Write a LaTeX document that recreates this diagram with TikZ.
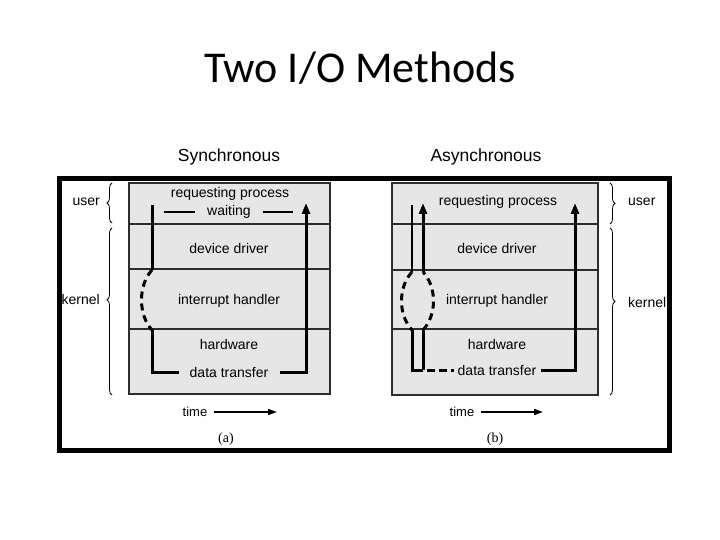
\documentclass[tikz,border=0pt]{standalone}
\usepackage{fontspec}
\setmainfont{Liberation Sans}
\newfontfamily\titlefont{Carlito}
\newfontfamily\serifx{Liberation Serif}
\usetikzlibrary{arrows.meta,decorations.pathreplacing}
\definecolor{boxgray}{RGB}{230,230,230}
\definecolor{edgegray}{RGB}{45,45,45}
\begin{document}
\begin{tikzpicture}[x=1pt,y=-1pt,
  lbl/.style={font=\fontsize{14}{16}\selectfont, inner sep=1pt},
  tlbl/.style={font=\fontsize{13}{15}\selectfont, inner sep=1pt},
  sublbl/.style={font=\serifx\fontsize{14}{16}\selectfont, inner sep=1pt},
  panel/.style={fill=boxgray, draw=edgegray, line width=1.3pt},
  divider/.style={draw=edgegray, line width=1.1pt},
  flow/.style={line width=3pt, line join=miter},
  thinflow/.style={line width=2pt},
  dashflow/.style={line width=3pt, dash pattern=on 7pt off 5pt},
  tip/.style={-{Triangle[length=11pt,width=8pt]}},
  waitline/.style={line width=1.6pt},
  timearrow/.style={line width=1.6pt, -{Triangle[length=9pt,width=6pt]}},
  brc/.style={decorate, decoration={brace, amplitude=5pt, aspect=#1}, line width=0.8pt},
  brc/.default=0.5
]
\useasboundingbox (0,0) rectangle (720,540);

% title and headings
\node[font=\titlefont\fontsize{44}{50}\selectfont] (title) at (360,68) {Two I/O Methods};
\node[font=\fontsize{17.5}{20}\selectfont] (sync) at (229,157) {Synchronous};
\node[font=\fontsize{17.5}{20}\selectfont] (async) at (486,157) {Asynchronous};

% ---------- panel (a) ----------
\draw[panel] (129,183) rectangle (330,394);
\draw[divider] (129,224) -- (330,224);
\draw[divider] (129,269) -- (330,269);
\draw[divider] (129,329) -- (330,329);

\node[lbl] (aReq) at (230,194) {requesting process};
\node[lbl, inner xsep=12pt] (aWait) at (229,212) {waiting};
\node[lbl] (aDev) at (229,248) {device driver};
\node[lbl] (aInt) at (229,301) {interrupt handler};
\node[lbl] (aHw) at (229,344) {hardware};
\node[lbl, inner xsep=11pt] (aDt) at (229,372) {data transfer};

\coordinate (aWl) at (164,212);
\coordinate (aWr) at (293,212);
\draw[waitline] (aWl) -- (aWait.west);
\draw[waitline] (aWait.east) -- (aWr);

\coordinate (aS) at (152,205);
\coordinate (aD1) at (152,270);
\coordinate (aD2) at (152,330);
\coordinate (aC) at (152,372);
\coordinate (aR) at (306,372);
\coordinate (aT) at (306,203);
\draw[flow] (aS) -- (aD1);
\draw[dashflow] (aD1) .. controls (138,285) and (138,315) .. (aD2);
\draw[flow] (aD2) -- (aC) -- (aDt.west);
\draw[flow, tip] (aDt.east) -- (aR) -- (aT);

\node[tlbl] (aTime) at (195,412) {time};
\coordinate (aTe) at (277,412);
\draw[timearrow] (aTime.east) ++(6,0) -- (aTe);
\node[sublbl] (aLab) at (226,439) {(a)};

% braces (a)
\coordinate (aB1) at (112,223);
\coordinate (aB2) at (112,183);
\coordinate (aB3) at (112,395);
\coordinate (aB4) at (112,228);
\draw[brc] (aB1) -- (aB2);
\draw[brc=0.57] (aB3) -- (aB4);
\node[lbl, anchor=east] (aUser) at (101,202) {user};
\node[lbl, anchor=east] (aKern) at (101,299) {kernel};

% ---------- panel (b) ----------
\draw[panel] (392,183) rectangle (598,395);
\draw[divider] (392,224) -- (598,224);
\draw[divider] (392,270) -- (598,270);
\draw[divider] (392,329) -- (598,329);

\node[lbl] (bReq) at (498,202) {requesting process};
\node[lbl] (bDev) at (497,248) {device driver};
\node[lbl] (bInt) at (497,301) {interrupt handler};
\node[lbl] (bHw) at (497,344) {hardware};
\node[lbl, inner xsep=4pt] (bDt) at (497,370) {data transfer};

\coordinate (bL0) at (412,205);
\coordinate (bL1) at (412,272);
\coordinate (bL2) at (412,330);
\coordinate (bL3) at (412,370);
\coordinate (bR3) at (423,370);
\coordinate (bR2) at (423,330);
\coordinate (bR1) at (423,272);
\coordinate (bR0) at (423,203);
\coordinate (bX) at (575,370);
\coordinate (bXT) at (575,203);
\draw[thinflow] (bL0) -- (bL1);
\draw[dashflow] (bL1) .. controls (398,287) and (398,315) .. (bL2);
\draw[flow] (bL2) -- (bL3) -- (bR3);
\draw[flow] (bR3) -- (bR2);
\draw[dashflow] (bR2) .. controls (437,315) and (437,287) .. (bR1);
\draw[flow, tip] (bR1) -- (bR0);
\draw[line width=3pt, dash pattern=on 8pt off 4pt, dash phase=8pt] (bR3) -- (bDt.west);
\draw[flow, tip] (bDt.east) -- (bX) -- (bXT);

\node[tlbl] (bTime) at (462,412) {time};
\coordinate (bTe) at (543,412);
\draw[timearrow] (bTime.east) ++(6,0) -- (bTe);
\node[sublbl] (bLab) at (495,439) {(b)};

% braces (b)
\coordinate (bB1) at (610,183);
\coordinate (bB2) at (610,224);
\coordinate (bB3) at (610,228);
\coordinate (bB4) at (610,395);
\draw[brc] (bB1) -- (bB2);
\draw[brc=0.44] (bB3) -- (bB4);
\node[lbl, anchor=west] (bUser) at (627,202) {user};
\node[lbl, anchor=west] (bKern) at (627,302) {kernel};

% outer frame
\draw[line width=5pt] (59.5,178.5) rectangle (669.5,450.5);
\end{tikzpicture}
\end{document}
